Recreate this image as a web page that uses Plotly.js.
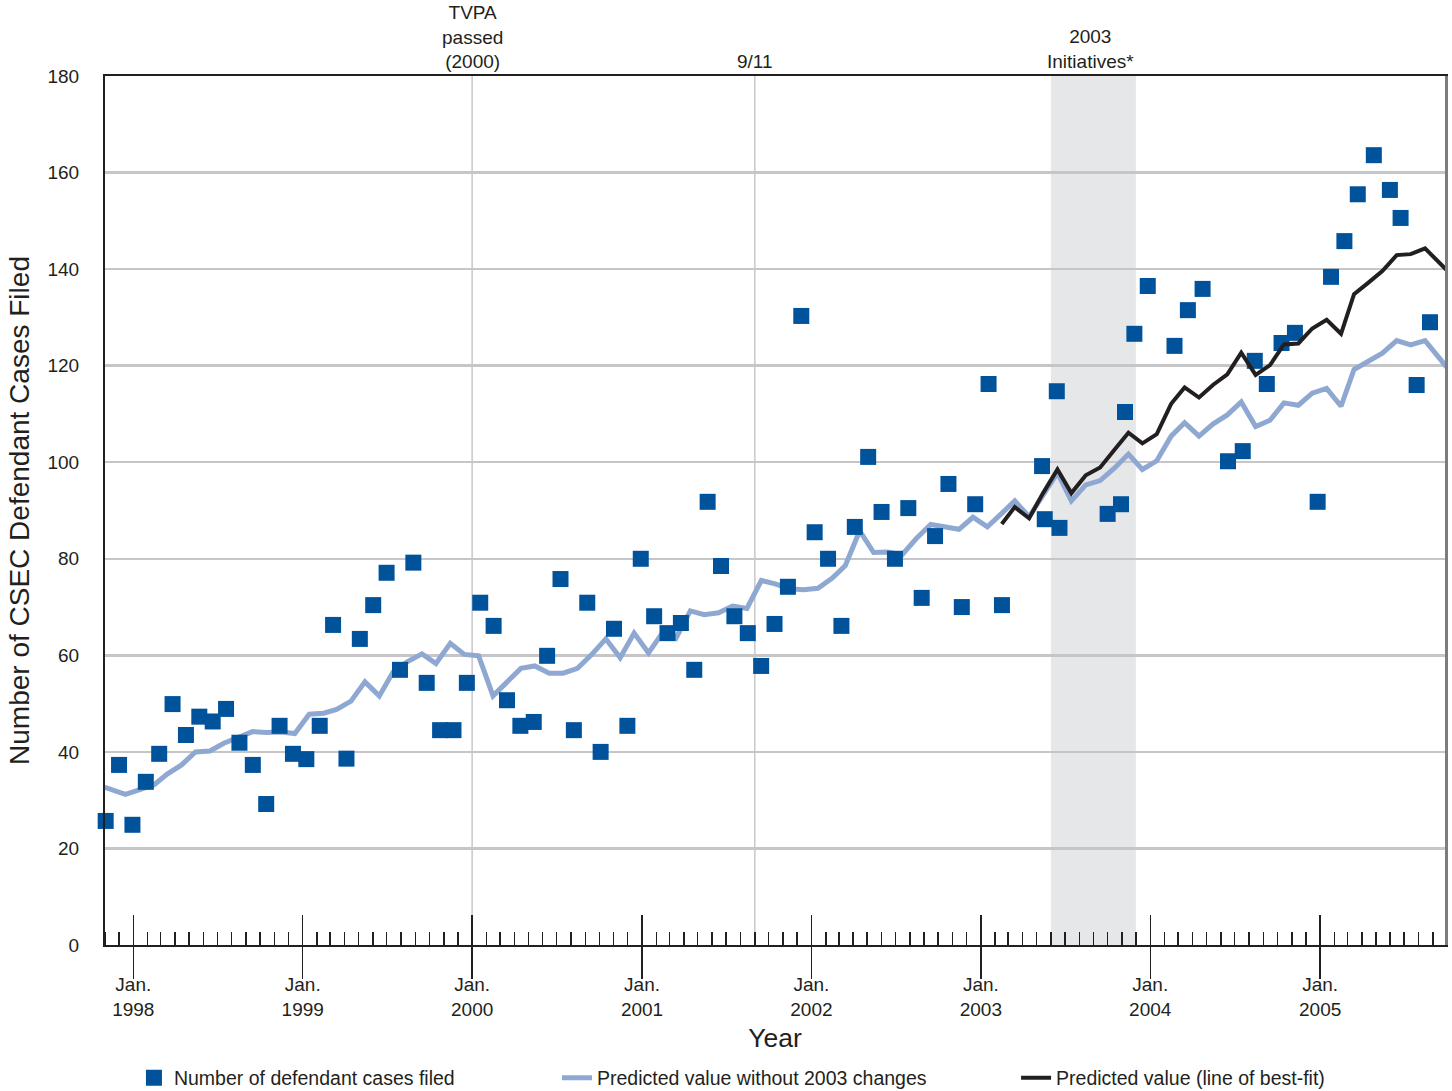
<!DOCTYPE html>
<html>
<head>
<meta charset="utf-8">
<script src="https://cdn.plot.ly/plotly-3.0.1.min.js"></script>
<style>html,body{margin:0;padding:0;background:#fff;}#chart{width:1452px;height:1091px;}</style>
</head>
<body>
<div id="chart"></div>
<script>
// ---- data ----
const yearLabels = ['1998','1999','2000','2001','2002','2003','2004','2005'];
const janTickVals = yearLabels.map(y => y + '-01-01');
const janTickText = yearLabels.map(y => 'Jan.<br>' + y);

// Predicted value without 2003 changes (monthly, starting Oct 1997)
const noChangeStart = '1997-10';
const noChangeValues = [33.2, 32.3, 31.2, 32.2, 33.2, 35.4, 37.3, 40.0, 40.2, 41.8, 42.9, 44.2, 44.0, 44.1, 43.8,
  47.8, 48.0, 48.8, 50.5, 54.5, 51.6, 56.6, 58.7, 60.3, 58.3, 62.5, 60.2, 59.9, 51.6, 54.2, 57.3, 57.8,
  56.3, 56.3, 57.3, 60.2, 63.4, 59.5, 64.6, 60.5, 64.8, 63.5, 69.2, 68.4, 68.8, 70.2, 69.7, 75.5, 74.8,
  73.8, 73.6, 73.9, 76.0, 78.6, 85.8, 81.3, 81.4, 80.8, 84.2, 87.1, 86.5, 86.1, 88.6, 86.6, 89.4, 92.0,
  88.7, 93.2, 97.8, 92.0, 95.3, 96.2, 98.7, 101.7, 98.5, 100.3, 105.4, 108.2, 105.4, 107.9, 109.8, 112.5,
  107.4, 108.7, 112.3, 111.8, 114.3, 115.3, 111.6, 119.2, 120.8, 122.6, 125.2, 124.3, 125.2, 121.5, 118.0];

// Predicted value (line of best-fit), monthly starting Feb 2003
const bestFitStart = '2003-02';
const bestFitValues = [87.2, 90.7, 88.4, 93.6, 98.5, 93.6, 97.3, 98.9, 102.5, 106.1, 103.9, 105.8, 112.1,
  115.5, 113.4, 116.0, 118.2, 122.7, 118.1, 120.1, 124.4, 124.6, 127.7, 129.5, 126.6, 134.8, 137.2,
  139.6, 142.9, 143.1, 144.3, 141.3, 138.4];

// Number of defendant cases filed: observation sequence position and value
const casesSeq = [0,1,2,3,4,5,6,7,8,9,10,11,12,13,14,15,16,17,18,19,20,21,22,23,24,25,26,27,28,29,30,
  31,32,33,34,35,36,37,38,39,40,41,42,43,44,45,46,47,48,49,50,51,52,53,54,55,56,57,58,59,60,61,62,63,
  64,65,66,67,70,70.2,71.1,71.3,74.9,75.9,76.2,76.9,77.9,79.9,80.9,82,83.9,85,85.9,86.8,87.9,88.9,
  90.6,91.6,92.6,93.6,94.8,96,96.8,98,99];
const casesFiled = [25.7,37.3,24.9,33.8,39.6,49.9,43.5,47.3,46.3,48.9,41.9,37.3,29.2,45.4,39.6,38.5,
  45.4,66.3,38.6,63.4,70.4,77.1,57.0,79.2,54.3,44.5,44.5,54.3,70.9,66.1,50.7,45.4,46.2,59.9,75.8,44.5,
  70.9,40.0,65.5,45.4,80.0,68.1,64.6,66.7,57.0,91.8,78.5,68.1,64.6,57.8,66.5,74.2,130.3,85.5,80.0,66.1,
  86.6,101.1,89.7,80.0,90.5,71.9,84.7,95.5,70.0,91.3,116.2,70.4,99.2,88.2,114.7,86.4,89.3,91.3,110.4,
  126.6,136.5,124.1,131.5,135.9,100.2,102.3,121.0,116.2,124.7,126.8,91.8,138.4,145.8,155.5,163.6,156.4,
  150.6,116.0,129.0];

// Events
const eventDates = ['2000-01-01', '2001-09-01'];
const eventLabels = ['TVPA<br>passed<br>(2000)', '9/11'];
const initiativeStart = '2003-06-01';
const initiativeEnd = '2003-12-01';
const initiativeLabel = '2003<br>Initiatives*';

// ---- helpers ----
function pad(n) { return (n < 10 ? '0' : '') + n; }
function monthDates(start, n, day) {
  let [y, m] = start.split('-').map(Number);
  const out = [];
  for (let i = 0; i < n; i++) {
    out.push(y + '-' + pad(m) + '-' + day);
    m++; if (m > 12) { m = 1; y++; }
  }
  return out;
}
const axisStart = '1997-11-01';
const axisEnd = '2005-09-27';
const monthTicks = monthDates('1997-11', 95, '01');

const ink = '#231f20';
const fontFam = '"Liberation Sans", Arial, Helvetica, sans-serif';

const traces = [
  {
    x: monthDates(noChangeStart, noChangeValues.length, '15'),
    y: noChangeValues,
    type: 'scatter', mode: 'lines',
    name: 'Predicted value without 2003 changes',
    line: {color: '#8fa8d2', width: 5},
    xaxis: 'x', yaxis: 'y', legend: 'legend2', hoverinfo: 'skip'
  },
  {
    x: monthDates(bestFitStart, bestFitValues.length, '15'),
    y: bestFitValues,
    type: 'scatter', mode: 'lines',
    name: 'Predicted value (line of best-fit)',
    line: {color: ink, width: 4},
    xaxis: 'x3', yaxis: 'y', legend: 'legend3', hoverinfo: 'skip'
  },
  {
    x: casesSeq,
    y: casesFiled,
    type: 'scatter', mode: 'markers',
    name: 'Number of defendant cases filed',
    marker: {symbol: 'square', size: 16, color: '#00529b', line: {width: 0}},
    cliponaxis: false,
    xaxis: 'x2', yaxis: 'y2', legend: 'legend', hoverinfo: 'skip'
  }
];

const shapes = [
  {type: 'rect', xref: 'x', yref: 'paper', x0: initiativeStart, x1: initiativeEnd, y0: 0, y1: 1,
   fillcolor: '#e6e7e9', line: {width: 0}, layer: 'below'}
].concat(eventDates.map(d => ({
  type: 'line', xref: 'x', yref: 'paper', x0: d, x1: d, y0: 0, y1: 1,
  line: {color: '#c8c8c8', width: 1.5}, layer: 'below'
})));

const midInit = new Date((new Date(initiativeStart).getTime() + new Date(initiativeEnd).getTime()) / 2)
  .toISOString().slice(0, 10);

const annotations = eventDates.map((d, i) => ({
  x: d, xref: 'x', y: 1, yref: 'paper', yanchor: 'bottom', xanchor: 'center',
  text: eventLabels[i], showarrow: false, yshift: 2,
  font: {family: fontFam, size: 19, color: ink}
})).concat([{
  x: midInit, xref: 'x', y: 1, yref: 'paper', yanchor: 'bottom', xanchor: 'center',
  text: initiativeLabel, showarrow: false, yshift: 2, xshift: -3,
  font: {family: fontFam, size: 19, color: ink}
}]);

const legendBase = {orientation: 'h', yanchor: 'middle', xanchor: 'left', yref: 'container', y: 0.0119,
  bgcolor: 'rgba(0,0,0,0)', font: {family: fontFam, size: 19.5, color: ink}, itemclick: false};

const layout = {
  width: 1452, height: 1091,
  margin: {l: 105, r: 7, t: 76, b: 146},
  paper_bgcolor: '#fff', plot_bgcolor: '#fff',
  font: {family: fontFam, color: ink},
  showlegend: true,
  legend: Object.assign({}, legendBase, {x: 0.0216}),
  legend2: Object.assign({}, legendBase, {x: 0.3373}),
  legend3: Object.assign({}, legendBase, {x: 0.6799}),
  xaxis: {
    type: 'date', range: [axisStart, axisEnd],
    tickmode: 'array', tickvals: janTickVals, ticktext: janTickText,
    ticks: 'outside', ticklen: 32, tickwidth: 1.5, tickcolor: ink,
    minor: {tickmode: 'array', tickvals: monthTicks, ticks: 'inside', ticklen: 13, tickwidth: 1.5,
            tickcolor: ink, showgrid: false},
    showgrid: false, zeroline: false,
    showline: true, linecolor: ink, linewidth: 2, mirror: true,
    ticklabelstandoff: -11,
    tickfont: {family: fontFam, size: 19, color: ink},
    title: {text: 'Year', font: {family: fontFam, size: 26.5, color: ink}, standoff: 10},
    automargin: false,
    fixedrange: true
  },
  xaxis3: {
    type: 'date', range: [axisStart, axisEnd], overlaying: 'x', anchor: 'y',
    tickmode: 'array', tickvals: janTickVals, ticktext: janTickVals.map(() => ''),
    ticks: 'inside', ticklen: 30, tickwidth: 1.5, tickcolor: ink,
    showticklabels: false, showgrid: false, zeroline: false, showline: false
  },
  xaxis2: {
    range: [-0.05, 100.12], overlaying: 'x', anchor: 'y2', visible: false
  },
  yaxis: {
    range: [0, 180], tickmode: 'array', tickvals: [0,20,40,60,80,100,120,140,160,180],
    ticks: '', showgrid: true, gridcolor: '#c6c6c8', gridwidth: 2.5, zeroline: false,
    showline: true, linecolor: ink, linewidth: 2, mirror: false,
    ticklabelstandoff: 20,
    tickfont: {family: fontFam, size: 19, color: ink},
    title: {text: 'Number of CSEC Defendant Cases Filed', font: {family: fontFam, size: 28, color: ink}, standoff: 10},
    automargin: false,
    fixedrange: true
  },
  yaxis2: {
    range: [0, 180], overlaying: 'y', side: 'right', anchor: 'x2',
    showline: true, linecolor: '#7d7d7d', linewidth: 2.5, showgrid: false, zeroline: false,
    ticks: '', showticklabels: false
  },
  shapes: shapes,
  annotations: annotations
};

Plotly.newPlot('chart', traces, layout, {displayModeBar: false, staticPlot: true});
</script>
</body>
</html>
